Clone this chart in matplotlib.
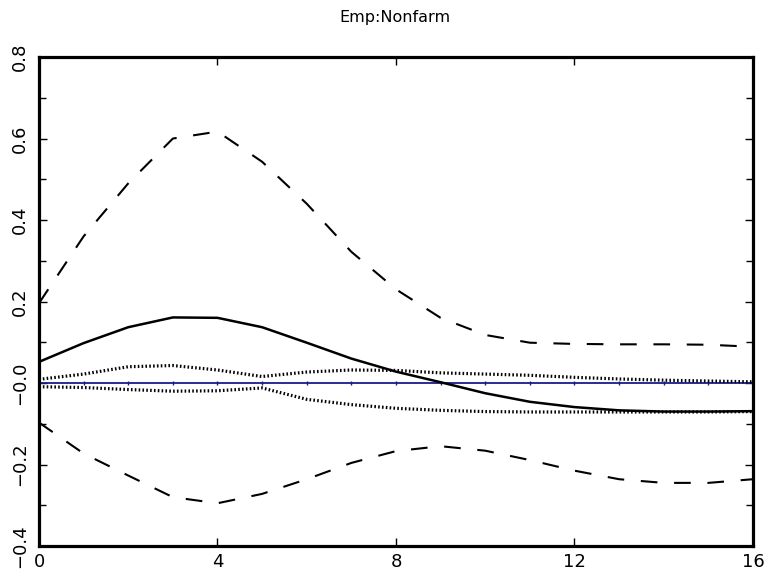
import matplotlib
matplotlib.use("Agg")
import matplotlib.pyplot as plt
from matplotlib.ticker import MultipleLocator

# horizon steps
steps = list(range(17))

# impulse response and bands
response = [0.052, 0.098, 0.137, 0.161, 0.160, 0.137, 0.099, 0.060, 0.028,
            0.002, -0.025, -0.046, -0.059, -0.067, -0.070, -0.070, -0.069]
upper_band = [0.196, 0.360, 0.490, 0.600, 0.617, 0.543, 0.440, 0.322, 0.230,
              0.160, 0.118, 0.099, 0.096, 0.095, 0.095, 0.094, 0.089]
lower_band = [-0.097, -0.173, -0.227, -0.280, -0.295, -0.272, -0.236, -0.196, -0.167,
              -0.155, -0.166, -0.189, -0.215, -0.236, -0.245, -0.245, -0.236]
upper_dot = [0.009, 0.022, 0.040, 0.043, 0.032, 0.016, 0.027, 0.032, 0.031,
             0.025, 0.022, 0.019, 0.014, 0.010, 0.007, 0.005, 0.003]
lower_dot = [-0.009, -0.011, -0.016, -0.020, -0.019, -0.012, -0.040, -0.053, -0.062,
             -0.067, -0.070, -0.071, -0.071, -0.071, -0.071, -0.071, -0.070]
zero_line = [0.0] * 17

x_ticks = [0, 4, 8, 12, 16]
y_ticks = [-0.4, -0.2, 0.0, 0.2, 0.4, 0.6, 0.8]
y_labels = ["\u22120.4", "\u22120.2", "\u22120.0", "0.2", "0.4", "0.6", "0.8"]

fig = plt.figure(figsize=(7.71, 5.76), dpi=100)
ax = fig.add_axes([0.0506, 0.052, 0.926, 0.849])

ax.plot(steps, zero_line, color="#1a1a8c", lw=1.3, marker="|", markersize=3, zorder=2)
ax.plot(steps, upper_dot, color="black", lw=2.3, linestyle=(0, (0.5, 0.7)), zorder=3)
ax.plot(steps, lower_dot, color="black", lw=2.3, linestyle=(0, (0.5, 0.7)), zorder=3)
ax.plot(steps, upper_band, color="black", lw=1.5, linestyle=(0, (8, 8)), zorder=3)
ax.plot(steps, lower_band, color="black", lw=1.5, linestyle=(0, (8, 8)), zorder=3)
ax.plot(steps, response, color="black", lw=1.8, zorder=4)

ax.set_xlim(0, 16)
ax.set_ylim(-0.4, 0.8)
ax.set_xticks(x_ticks)
ax.set_xticklabels([str(t) for t in x_ticks])
ax.set_yticks(y_ticks)
ax.set_yticklabels(y_labels, rotation=90, va="center")
ax.yaxis.set_minor_locator(MultipleLocator(0.1))

for s in ax.spines.values():
    s.set_linewidth(2.3)

ax.tick_params(which="both", direction="in", top=True, right=True,
               width=1.0, labelsize=13)
ax.tick_params(which="major", length=6)
ax.tick_params(which="minor", length=5)
ax.tick_params(axis="y", pad=7)
ax.tick_params(axis="x", pad=5)

fig.text(0.512, 0.969, "Emp:Nonfarm", ha="center", va="center", fontsize=11.5)

plt.savefig("out.png", dpi=100)
